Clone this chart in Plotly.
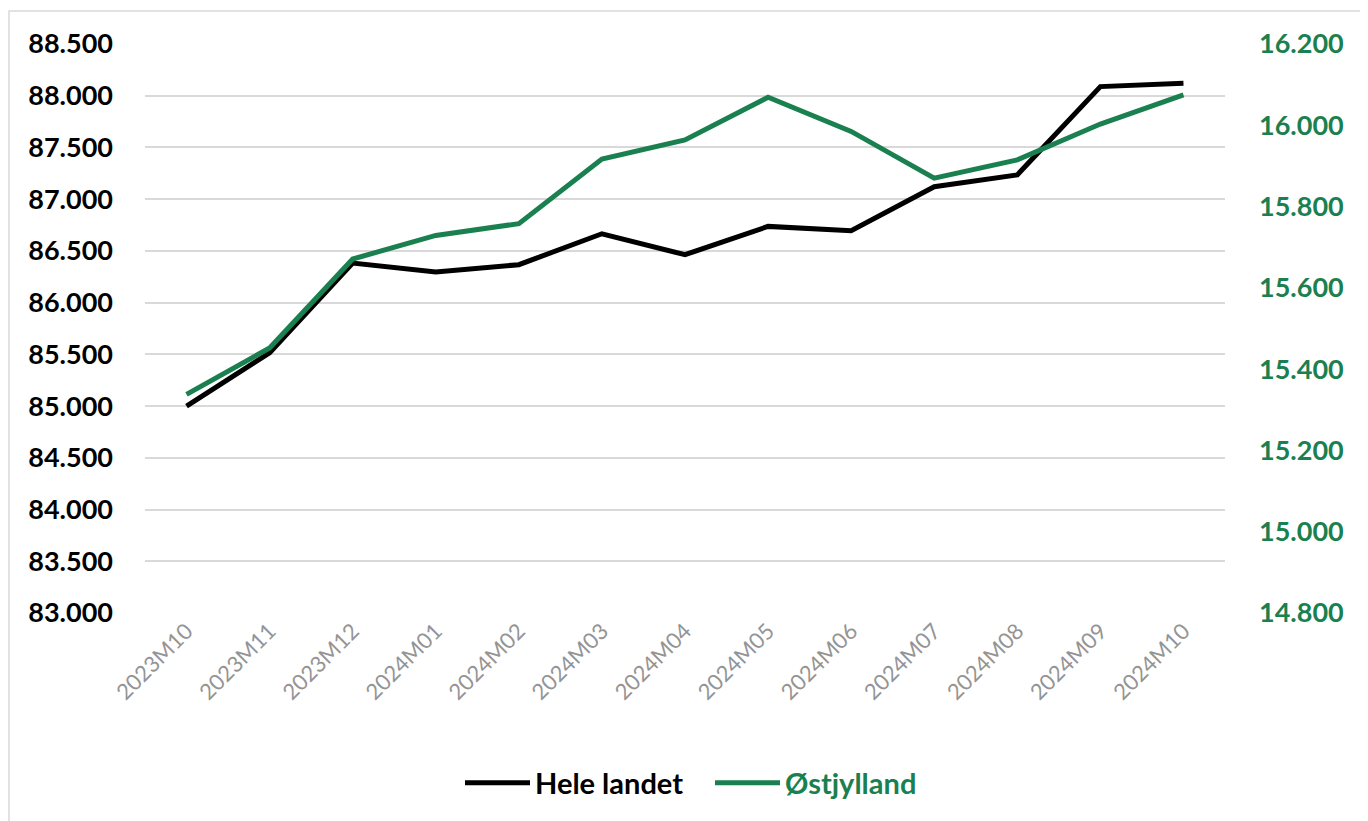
import plotly.graph_objects as go

months = ["2023M10", "2023M11", "2023M12", "2024M01", "2024M02", "2024M03", "2024M04",
          "2024M05", "2024M06", "2024M07", "2024M08", "2024M09", "2024M10"]
hele_landet = [85000, 85515, 86383, 86296, 86367, 86666, 86463, 86737, 86695, 87120, 87235, 88088, 88120]
ostjylland = [15338, 15452, 15671, 15729, 15758, 15917, 15964, 16069, 15985, 15870, 15915, 16003, 16075]

left_ticks = list(range(83000, 88501, 500))
right_ticks = list(range(14800, 16201, 200))

GREEN = "#1A8050"
FONT = "Lato"

W, H = 1368, 821
OFF = 8  # page body margin
ML, MR, MT, MB = 137, 151, 36, 216
pw = W - ML - MR
ph = H - MT - MB
px0 = OFF + ML  # screen x of plot left
py0 = OFF + MT  # screen y of plot top
py1 = py0 + ph  # screen y of plot bottom

fig = go.Figure()
fig.add_trace(go.Scatter(x=months, y=hele_landet, name="Hele landet", mode="lines",
                         line=dict(color="#000000", width=5), yaxis="y"))
fig.add_trace(go.Scatter(x=months, y=ostjylland,
                         name="<span style='color:%s'>Østjylland</span>" % GREEN, mode="lines",
                         line=dict(color=GREEN, width=5), yaxis="y2"))

# outer chart frame
fig.add_shape(type="rect", xref="paper", yref="paper",
              x0=(9 - px0) / pw, x1=(1366 - px0) / pw,
              y0=-(840 - py1) / ph, y1=1 + (py0 - 11) / ph,
              line=dict(color="#D9D9D9", width=1.5), fillcolor="rgba(0,0,0,0)", layer="below")

fig.update_layout(
    width=W, height=H,
    margin=dict(l=ML, r=MR, t=MT, b=MB),
    paper_bgcolor="white", plot_bgcolor="white",
    separators=",.",
    font=dict(family=FONT),
    showlegend=True,
    legend=dict(orientation="h", x=(710 - px0) / pw, xanchor="center",
                y=-(783 - py1) / ph, yanchor="middle",
                font=dict(size=29, family=FONT, weight="bold", color="#000000"),
                itemwidth=65, entrywidth=170, entrywidthmode="pixels",
                traceorder="normal", bgcolor="rgba(0,0,0,0)"),
    xaxis=dict(type="category", range=[-0.5, 12.5], showgrid=False, showline=False,
               zeroline=False, tickangle=-45, ticks="",
               tickfont=dict(size=22, color="#949494", family=FONT),
               ticklabelstandoff=0),
    yaxis=dict(range=[83000, 88500], tickvals=left_ticks, tickformat=",.0f",
               showgrid=True, gridcolor="#D9D9D9", gridwidth=1.5, zeroline=False,
               showline=False, ticks="", ticklabelstandoff=31,
               tickfont=dict(size=27, color="#000000", family=FONT, weight="bold")),
    yaxis2=dict(range=[14800, 16200], tickvals=right_ticks, tickformat=",.0f",
                overlaying="y", side="right", showgrid=False, zeroline=False,
                showline=False, ticks="", ticklabelstandoff=33,
                tickfont=dict(size=27, color=GREEN, family=FONT, weight="bold")),
)

fig.write_html("out.html")
